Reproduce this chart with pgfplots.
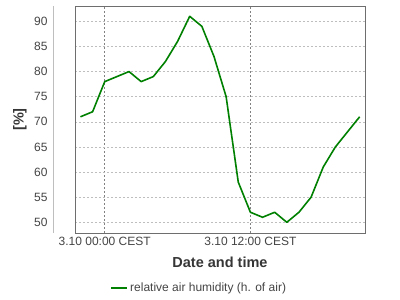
\documentclass[border=0pt]{standalone}
\usepackage{pgfplots}
\pgfplotsset{compat=1.18}
\usepackage{fontspec}
\setmainfont{Liberation Sans}
\definecolor{humid}{RGB}{0,128,0}
\definecolor{tick}{RGB}{68,68,68}
\definecolor{frame}{RGB}{110,110,110}
\definecolor{hgrid}{RGB}{190,190,190}
\definecolor{vgrid}{RGB}{130,130,130}
\begin{document}
\begin{tikzpicture}
\path[use as bounding box] (0,0) rectangle (400pt,300pt);
\begin{axis}[
  scale only axis,
  width=290pt, height=227pt,
  at={(75pt,67pt)}, anchor=south west,
  xmin=-2.45, xmax=21.44,
  ymin=47.87, ymax=93.05,
  xtick={0,12},
  xticklabels={3.10 00:00 CEST,3.10 12:00 CEST},
  ytick={50,55,...,90},
  major tick length=0pt,
  axis line style={frame, line width=0.8pt},
  grid=major,
  x grid style={vgrid, dash pattern=on 2pt off 2pt, line width=0.6pt},
  y grid style={hgrid, dash pattern=on 2pt off 2pt, line width=0.6pt},
  tick label style={font=\fontsize{12}{14}\selectfont, text=tick},
  /pgf/number format/assume math mode=true,
  yticklabel style={xshift=-24pt},
  xticklabel style={yshift=-0.5pt},
  xlabel={Date and time},
  xlabel style={font=\fontsize{14.5}{16}\selectfont\bfseries, text=tick!80!black, at={(axis description cs:0.5,-0.128)}, anchor=center},
  ylabel={[\%]},
  ylabel style={font=\fontsize{14.5}{16}\selectfont\bfseries, text=tick!80!black, at={(axis description cs:-0.19,0.5)}, anchor=center, rotate=0},
  legend style={at={(axis description cs:0.428,-0.242)}, anchor=center, draw=none, fill=none, font=\fontsize{12}{14}\selectfont, text=tick, legend cell align=left, inner sep=0pt},
  legend image code/.code={\draw[#1, line width=2pt] (0pt,0pt) -- (16pt,0pt);},
  clip=false,
]
\addplot[humid, line width=1.6pt, line join=round] coordinates {
(-2,71) (-1,72) (0,78) (1,79) (2,80) (3,78) (4,79) (5,82) (6,86) (7,91)
(8,89) (9,83) (10,75) (11,58) (12,52) (13,51) (14,52) (15,50) (16,52)
(17,55) (18,61) (19,65) (20,68) (21,71)
};
\addlegendentry{relative air humidity (h. of air)}
\draw[hgrid, line width=0.8pt] ([xshift=-22pt]rel axis cs:0,0) -- ([xshift=-22pt]rel axis cs:0,1);
\end{axis}
\end{tikzpicture}
\end{document}
